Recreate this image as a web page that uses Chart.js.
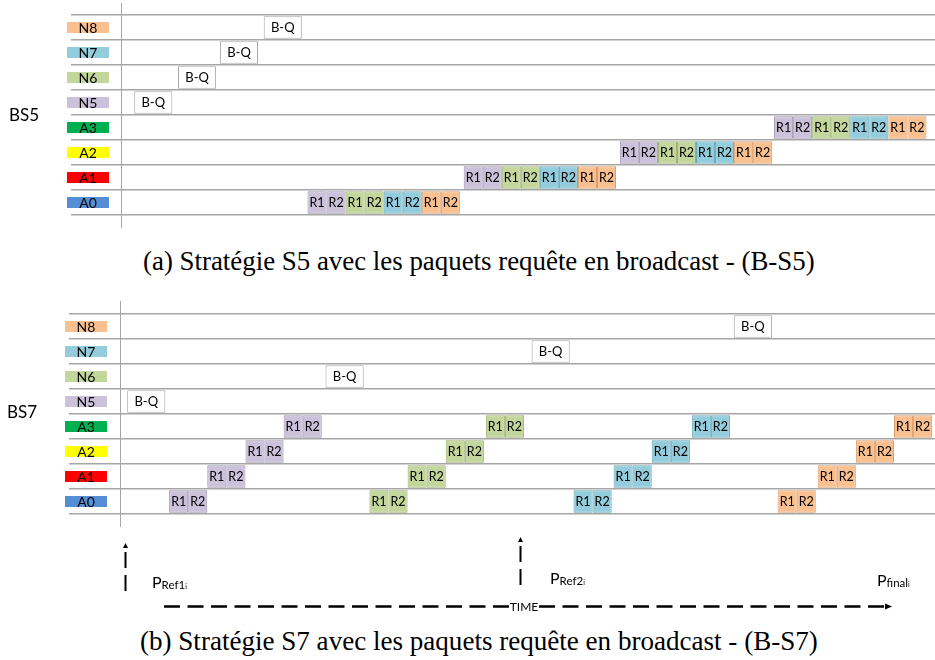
<!DOCTYPE html>
<html>
<head>
<meta charset="utf-8">
<script src="https://cdn.jsdelivr.net/npm/chart.js@4.4.1/dist/chart.umd.min.js"></script>
<style>
body { margin:0; background:#fff; width:935px; height:660px; position:relative; overflow:hidden; font-family:Lato, sans-serif; }
canvas { position:absolute; left:0; }
#c1 { top:0; }
#c2 { top:290px; }
.bs { position:absolute; font-size:17px; line-height:20px; color:#000; }
.cap { position:absolute; font-family:"Liberation Serif", serif; font-size:22px; line-height:26px; white-space:nowrap; color:#000; }
.p { position:absolute; font-size:16px; line-height:20px; white-space:nowrap; color:#000; }
.p sub { font-size:11.5px; vertical-align:-1px; }
.p sub sub { font-size:7px; vertical-align:0; }
</style>
</head>
<body>
<canvas id="c1" width="935" height="235"></canvas>
<canvas id="c2" width="935" height="335"></canvas>
<div class="bs" style="left:9px;top:105px">BS5</div>
<div class="bs" style="left:7px;top:402px">BS7</div>
<div class="cap" id="capA" style="left:143px;top:248px">(a) Stratégie S5 avec les paquets requête en broadcast - (B-S5)</div>
<div class="cap" id="capB" style="left:140px;top:628px">(b) Stratégie S7 avec les paquets requête en broadcast - (B-S7)</div>
<div class="p" style="left:152px;top:572px">P<sub>Ref1<sub>i</sub></sub></div>
<div class="p" style="left:550px;top:568px">P<sub>Ref2<sub>i</sub></sub></div>
<div class="p" style="left:877px;top:570px">P<sub>final<sub>i</sub></sub></div>
<script>
// rows, top to bottom
var rows = ['N8', 'N7', 'N6', 'N5', 'A3', 'A2', 'A1', 'A0'];
var tagColors = ['#FAC090', '#93CDDD', '#C3D69B', '#CCC1DA', '#00B050', '#FFFF00', '#FF0000', '#558ED5'];

// time unit = one R packet
var packetLen = 1;
var queryLen = 2;

// BS5 : start of B-Q (N8..N5) and start of the R1R2 x4 run (A3..A0)
var bs5Query = [7.5, 5.2, 3.0, 0.7];
var bs5Resp = [34.3, 26.2, 18.0, 9.8];

// BS7 : start of B-Q (N8..N5) and of each R1R2 pair (A3..A0), one array per node colour
var bs7Query = [32.2, 21.6, 10.8, 0.4];
var bs7Purple = [8.6, 6.6, 4.6, 2.6];
var bs7Green = [19.2, 17.1, 15.1, 13.1];
var bs7Blue = [30.0, 27.9, 25.9, 23.8];
var bs7Orange = [40.6, 38.6, 36.6, 34.5];

// reference marks and end of the BS7 time line
var refTimes = [0.3, 21.0];
var timeStart = 2.0;
var timeEnd = 40.5;

var groupFill = ['#CCC1DA', '#C3D69B', '#93CDDD', '#FAC090'];
var groupLine = ['#9C93AD', '#97AE6C', '#67A7B9', '#D99D6C'];

function cellSet(starts, k, g) {
    return {
        data: rows.map(function (r, i) { return i < 4 ? null : [starts[i - 4] + k * packetLen, starts[i - 4] + (k + 1) * packetLen]; }),
        backgroundColor: groupFill[g],
        borderColor: groupLine[g],
        text: k % 2 ? 'R2' : 'R1'
    };
}
function querySet(starts) {
    return {
        data: rows.map(function (r, i) { return i < 4 ? [starts[i], starts[i] + queryLen] : null; }),
        backgroundColor: '#FFFFFF',
        borderColor: '#A6A6A6',
        text: 'B-Q'
    };
}

var bs5Sets = [querySet(bs5Query)];
for (var k = 0; k < 8; k++) bs5Sets.push(cellSet(bs5Resp, k, k >> 1));

var bs7Sets = [querySet(bs7Query)];
[bs7Purple, bs7Green, bs7Blue, bs7Orange].forEach(function (arr, g) {
    bs7Sets.push(cellSet(arr, 0, g));
    bs7Sets.push(cellSet(arr, 1, g));
});

var decor = {
    id: 'decor',
    afterDatasetsDraw: function (chart, args, opts) {
        var ctx = chart.ctx, x = chart.scales.x, y = chart.scales.y;
        ctx.save();
        // time origin line
        var x0 = Math.round(x.getPixelForValue(0)) + 0.5;
        ctx.strokeStyle = '#A6A6A6';
        ctx.lineWidth = 1;
        ctx.beginPath();
        ctx.moveTo(x0, opts.vTop);
        ctx.lineTo(x0, opts.vBottom);
        ctx.stroke();

        ctx.textAlign = 'center';
        ctx.textBaseline = 'middle';
        // row tags
        rows.forEach(function (r, i) {
            var yc = y.getPixelForValue(i);
            ctx.fillStyle = tagColors[i];
            ctx.fillRect(opts.tagX, yc - 5.5, 42, 11);
            ctx.fillStyle = '#000';
            ctx.font = '14px Lato';
            ctx.fillText(r, opts.tagX + 21, yc + 0.5);
        });
        // packet labels
        chart.data.datasets.forEach(function (ds, di) {
            var meta = chart.getDatasetMeta(di);
            meta.data.forEach(function (el, j) {
                if (ds.data[j] == null) return;
                var c = el.getCenterPoint();
                ctx.fillStyle = '#000';
                ctx.font = ds.text === 'B-Q' ? '13px Lato' : '12.5px Lato';
                ctx.fillText(ds.text, c.x, c.y + 0.5);
            });
        });

        if (opts.time) {
            ctx.strokeStyle = '#000';
            ctx.fillStyle = '#000';
            ctx.lineWidth = 2;
            // vertical reference arrows
            refTimes.forEach(function (t, n) {
                var px = Math.round(x.getPixelForValue(t)) + 0.5;
                var yb = opts.arrowBottom[n];
                ctx.setLineDash([16, 7]);
                ctx.beginPath();
                ctx.moveTo(px, yb);
                ctx.lineTo(px, yb - 39);
                ctx.stroke();
                ctx.setLineDash([]);
                ctx.beginPath();
                ctx.moveTo(px, yb - 48);
                ctx.lineTo(px - 2.5, yb - 43);
                ctx.lineTo(px + 2.5, yb - 43);
                ctx.closePath();
                ctx.fill();
            });
            // dashed time axis
            var xs = x.getPixelForValue(timeStart);
            var xe = x.getPixelForValue(timeEnd);
            var xm = 524, yl = 316.5;
            ctx.lineWidth = 2.5;
            ctx.setLineDash([16, 7.5]);
            ctx.beginPath();
            ctx.moveTo(xm - 15, yl); ctx.lineTo(xs, yl);
            ctx.stroke();
            ctx.beginPath();
            ctx.moveTo(xm + 15, yl); ctx.lineTo(xe - 6, yl);
            ctx.stroke();
            ctx.setLineDash([]);
            ctx.beginPath();
            ctx.moveTo(xe, yl);
            ctx.lineTo(xe - 7, yl - 3);
            ctx.lineTo(xe - 7, yl + 3);
            ctx.closePath();
            ctx.fill();
            ctx.font = '12px Lato';
            ctx.fillText('TIME', xm, yl + 0.5);
        }
        ctx.restore();
    }
};

function makeChart(id, datasets, pad, decorOpts, xMin) {
    return new Chart(document.getElementById(id).getContext('2d'), {
        type: 'bar',
        data: { labels: rows, datasets: datasets },
        options: {
            indexAxis: 'y',
            responsive: false,
            animation: false,
            events: [],
            layout: { padding: pad },
            datasets: {
                bar: {
                    grouped: false,
                    barPercentage: 0.9,
                    categoryPercentage: 1,
                    borderWidth: 1,
                    borderSkipped: false
                }
            },
            scales: {
                x: { type: 'linear', display: false, min: xMin, max: 42.75 },
                y: {
                    display: true,
                    offset: true,
                    ticks: { display: false },
                    border: { display: false },
                    grid: { color: '#A6A6A6', lineWidth: 1.5, drawTicks: false, offset: true }
                }
            },
            plugins: {
                legend: { display: false },
                tooltip: { enabled: false },
                decor: decorOpts
            }
        },
        plugins: [decor]
    });
}

makeChart('c1', bs5Sets, { left: 71, right: 0, top: 15, bottom: 20 }, { tagX: 67, vTop: 3, vBottom: 228, time: false }, -2.62);
makeChart('c2', bs7Sets, { left: 69, right: 0, top: 24, bottom: 111 }, { tagX: 65, vTop: 11, vBottom: 237, time: true, arrowBottom: [301, 295] }, -2.65);

[['capA', 672], ['capB', 678]].forEach(function (p) {
    var el = document.getElementById(p[0]);
    el.style.fontSize = (22 * p[1] / el.offsetWidth) + 'px';
});
</script>
</body>
</html>
